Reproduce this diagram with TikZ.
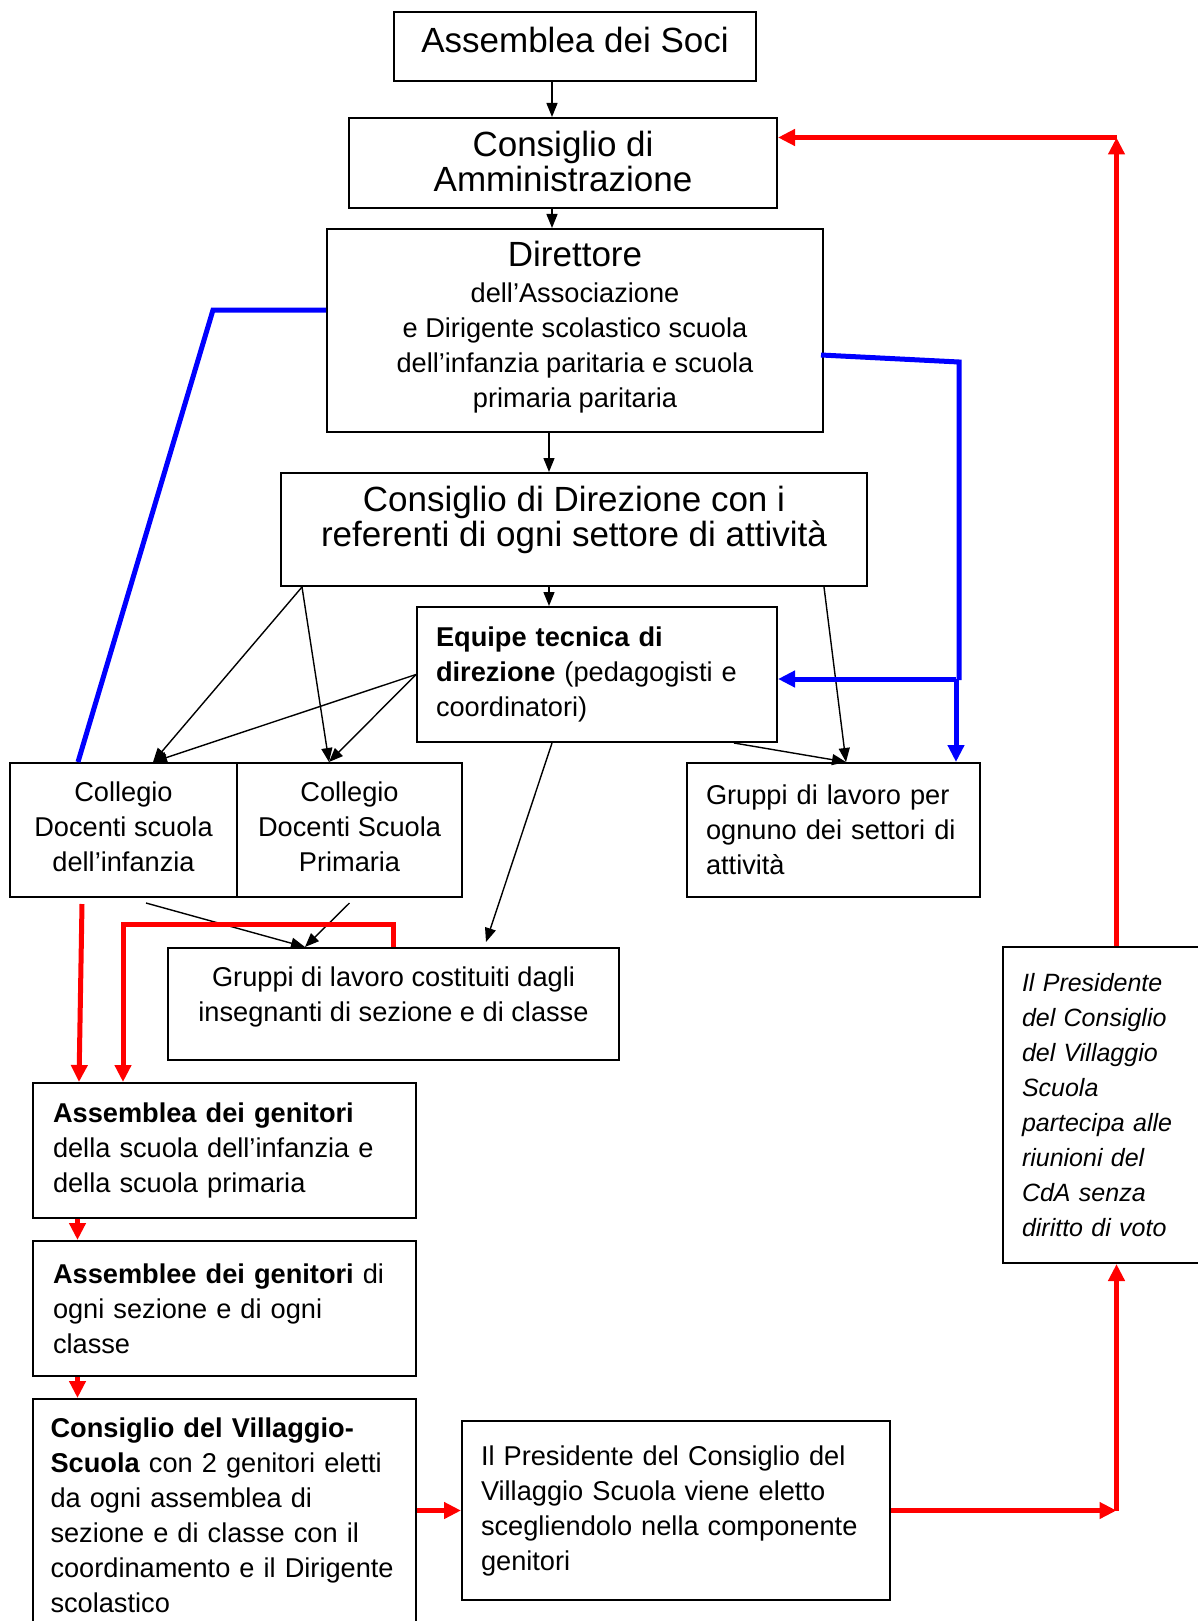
\documentclass[tikz,border=0pt]{standalone}
\usepackage{fontspec}
\setmainfont{Liberation Sans}
\usetikzlibrary{arrows.meta}
\newcommand{\fsbig}{\fontsize{17.5}{17.5}\selectfont}
\newcommand{\fsnorm}{\fontsize{13.6}{17.5}\selectfont}
\newcommand{\fsit}{\fontsize{12.5}{17.5}\selectfont\itshape}

\begin{document}
\begin{tikzpicture}[x=0.5pt, y=-0.5pt,
		>={Triangle[length=7pt,width=5.5pt]},
		box/.style={draw, line width=1pt, align=center, font=\fsnorm},
		lbox/.style={draw, line width=1pt, align=left, font=\fsnorm, inner xsep=9.5pt},
		conn/.style={->, line width=0.7pt},
		blueline/.style={draw=blue, line width=2.5pt},
		redline/.style={draw=red, line width=2.5pt},
		bigtip/.style={-{Triangle[length=8.5pt,width=8pt]}}]
		\useasboundingbox (0,0) rectangle (1198,1621);
		
		\node[box, font=\fsbig, minimum width=181pt, minimum height=34.5pt, text depth=7pt] (soci) at (575,46.5) {Assemblea dei Soci};
		\node[box, font=\fsbig, minimum width=214pt, minimum height=45pt, text depth=2pt] (cda) at (563,163) {Consiglio di\\Amministrazione};
		\node[box, minimum width=248pt, minimum height=101.5pt, text depth=6pt] (dir) at (575,330.5) {{\fsbig Direttore}\\[0.5pt]dell’Associazione\\e Dirigente scolastico scuola\\dell’infanzia paritaria e scuola\\primaria paritaria};
		\node[box, font=\fsbig, minimum width=293pt, minimum height=56.5pt, text depth=13pt] (direz) at (574,529.5) {Consiglio di Direzione con i\\referenti di ogni settore di attività};
		\node[lbox, text width=161pt, minimum height=67.5pt] (equipe) at (597,674.5) {\textbf{Equipe tecnica di}\\\textbf{direzione} (pedagogisti e\\coordinatori)};
		
		\node[box, minimum width=113.5pt, minimum height=67pt, text depth=3pt] (colinf) at (123.5,830) {Collegio\\Docenti scuola\\dell’infanzia};
		\node[box, minimum width=112.5pt, minimum height=67pt, text depth=3pt] (colprim) at (349.5,830) {Collegio\\Docenti Scuola\\Primaria};
		\node[lbox, text width=127.5pt, minimum height=67pt] (grupset) at (833.5,830) {Gruppi di lavoro per\\ognuno dei settori di\\attività\par\vspace{3pt}};
		\node[box, minimum width=225.5pt, minimum height=56pt, text depth=10pt] (grupcost) at (393.5,1004) {Gruppi di lavoro costituiti dagli\\insegnanti di sezione e di classe};
		
		\node[lbox, inner xsep=10pt, text width=171.5pt, minimum height=67.5pt] (assgen) at (224.5,1150.5) {\textbf{Assemblea dei genitori}\\della scuola dell’infanzia e\\della scuola primaria};
		\node[lbox, inner xsep=10pt, text width=171.5pt, minimum height=67.5pt] (assgen2) at (224.5,1308.5) {\textbf{Assemblee dei genitori} di\\ogni sezione e di ogni\\classe\par\vspace{3pt}};
		\node[lbox, inner xsep=8.75pt, text width=174pt, minimum height=116pt] (cvs) at (224.5,1515) {\textbf{Consiglio del Villaggio-}\\\textbf{Scuola} con 2 genitori eletti\\da ogni assemblea di\\sezione e di classe con il\\coordinamento e il Dirigente\\scolastico};
		\node[lbox, text width=195pt, minimum height=89.5pt] (pres) at (676,1510.5) {Il Presidente del Consiglio del\\Villaggio Scuola viene eletto\\scegliendolo nella componente\\genitori\par\vspace{5pt}};
		\node[lbox, font=\fsit, text width=84.5pt, minimum height=158pt] (presit) at (1106.5,1105) {Il Presidente\\del Consiglio\\del Villaggio\\Scuola\\partecipa alle\\riunioni del\\CdA senza\\diritto di voto\par\vspace{4pt}};
		
		% frecce nere
		\draw[conn] ([xshift=-11.5pt]soci.south) -- ([xshift=-5.5pt]cda.north);
		\draw[conn] ([xshift=-5.5pt]cda.south) -- ([xshift=-11.5pt]dir.north);
		\draw[conn] ([xshift=-13pt]dir.south) -- ([xshift=-12.5pt]direz.north);
		\draw[conn] ([xshift=-12.5pt]direz.south) -- ([xshift=-24pt]equipe.north);
		\draw[conn] ([xshift=11pt]direz.south west) -- ([xshift=14.75pt]colinf.north);
		\draw[conn] ([xshift=11pt]direz.south west) -- ([xshift=-10.25pt]colprim.north);
		\draw[conn] (equipe.west) -- ([xshift=14.75pt]colinf.north);
		\draw[conn] (equipe.west) -- ([xshift=-10.25pt]colprim.north);
		\draw[conn] ([xshift=-22pt]direz.south east) -- ([xshift=6.25pt]grupset.north);
		\draw[conn] ([xshift=-22pt]equipe.south east) -- ([xshift=6.25pt]grupset.north);
		\draw[conn] ([xshift=-22.5pt]equipe.south) -- ([xshift=46.25pt,yshift=2.5pt]grupcost.north);
		\draw[conn] ([xshift=11.25pt,yshift=-2.5pt]colinf.south) -- ([xshift=-44.25pt]grupcost.north);
		\draw[conn] ([yshift=-2.5pt]colprim.south) -- ([xshift=-44.25pt]grupcost.north);
		
		% linee blu
		\draw[blueline] ([yshift=10.25pt]dir.west) -- ++(-56.5pt,0) -- ([xshift=-22.75pt]colinf.north);
		\draw[blueline] ([xshift=-1.5pt,yshift=-12.25pt]dir.east) -- ++(69pt,-3.5pt) -- ++(0,-159pt);
		\coordinate (bj) at ([xshift=61.25pt,yshift=41.5pt]grupset.north);
		\draw[blueline, bigtip] (bj) -- (bj -| equipe.east);
		\draw[blueline, bigtip] (bj) -- (grupset.north -| bj);
		
		% linee rosse
		\draw[redline, bigtip] ([xshift=-20.75pt,yshift=-3pt]colinf.south) -- ([xshift=-72.75pt]assgen.north);
		\draw[redline, bigtip] (grupcost.north) -- ++(0,11.5pt) -| ([xshift=-50.75pt]assgen.north);
		\draw[redline, bigtip] ([xshift=-73.5pt]assgen.south) -- ([xshift=-73.5pt]assgen2.north);
		\draw[redline, bigtip] ([xshift=-73.5pt]assgen2.south) -- ([xshift=-73.5pt]cvs.north);
		\draw[redline, bigtip] (cvs.east |- pres.west) -- (pres.west);
		\coordinate (rx) at ([xshift=5pt]presit.south);
		\draw[redline, bigtip] (pres.east) -- (rx |- pres.east);
		\draw[redline, bigtip] (rx |- pres.east) -- (rx);
		\coordinate (ry) at ([xshift=5pt]presit.north);
		\coordinate (rt) at ([yshift=12.75pt]cda.east);
		\draw[redline, bigtip] (ry) -- (ry |- rt);
		\draw[redline, bigtip] (ry |- rt) -- (rt);
\end{tikzpicture}
\end{document}
